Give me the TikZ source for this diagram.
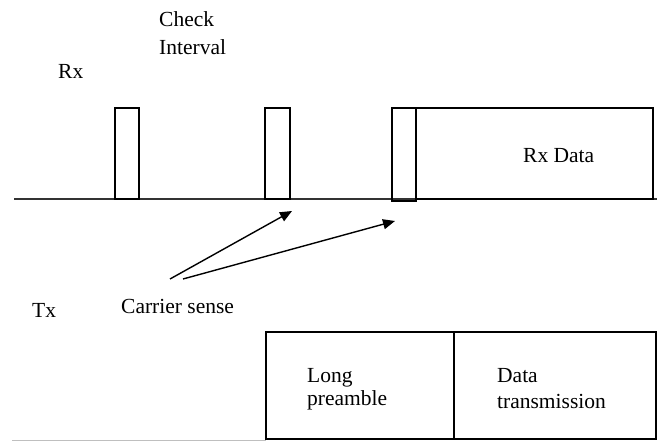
\documentclass[tikz,border=0pt]{standalone}
\usepackage{fontspec}
\setmainfont{Liberation Serif}
\usetikzlibrary{arrows.meta}
\begin{document}
\begin{tikzpicture}[x=1pt,y=-1pt,
  box/.style={draw,line width=1.3pt,inner sep=0pt,rectangle},
  lbl/.style={inner sep=0pt,anchor=base west,font=\fontsize{21.5}{24}\selectfont},
  arr/.style={line width=1.4pt,-{Triangle[length=12pt,width=10pt]}}]
\useasboundingbox (0,0) rectangle (657,441);
% Rx time line
\draw[line width=1.4pt,black!80] (14,199) -- (657,199);
\draw[line width=1pt,black!25] (12,440) -- (266,440);
% Rx boxes
\node[box,minimum width=24pt,minimum height=91pt] (b1) at (127,153.5) {};
\node[box,minimum width=25pt,minimum height=91pt] (b2) at (277.5,153.5) {};
\node[box,minimum width=237pt,minimum height=91pt] (rxd) at (534.5,153.5) {};
\node[box,minimum width=24pt,minimum height=93pt] (b3) at (404,154.5) {};
% Tx boxes
\node[box,minimum width=188pt,minimum height=107pt] (lp) at (360,385.5) {};
\node[box,minimum width=202pt,minimum height=107pt] (dt) at (555,385.5) {};
% labels
\node[lbl] (chk) at (159,27) {Check};
\node[lbl] (int) at (159,55) {Interval};
\node[lbl] (rx) at (58,79) {Rx};
\node[lbl] (rxdt) at (523,163) {Rx Data};
\node[lbl] (tx) at (32,318) {Tx};
\node[lbl] (cs) at (121,313) {Carrier sense};
\node[lbl] (lg) at (307,382) {Long};
\node[lbl] (pr) at (307,405) {preamble};
\node[lbl] (da) at (497,382) {Data};
\node[lbl] (tr) at (497,408) {transmission};
% arrows
\coordinate (s1) at (170,279);
\coordinate (s2) at (183,279);
\coordinate (t1) at (292,211);
\coordinate (t2) at (395,221);
\draw[arr] (s1) -- (t1);
\draw[arr] (s2) -- (t2);
\end{tikzpicture}
\end{document}
